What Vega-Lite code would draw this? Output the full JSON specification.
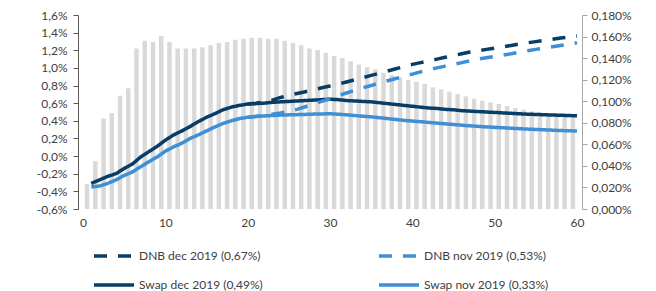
{
  "$schema": "https://vega.github.io/schema/vega-lite/v6.json",
  "autosize": {"type": "none"},
  "width": 504,
  "height": 194,
  "padding": {"left": 78, "top": 15, "right": 74, "bottom": 82},
  "background": "white",
  "config": {"font": "Lato", "view": {"stroke": null}},
  "datasets": {
    "bars": [
      {"t":0.5,"p":0.023},{"t":1.5,"p":0.0445},{"t":2.5,"p":0.084},{"t":3.5,"p":0.089},{"t":4.5,"p":0.105},
      {"t":5.5,"p":0.112},{"t":6.5,"p":0.149},{"t":7.5,"p":0.156},{"t":8.5,"p":0.155},{"t":9.5,"p":0.1605},
      {"t":10.5,"p":0.155},{"t":11.5,"p":0.149},{"t":12.5,"p":0.149},{"t":13.5,"p":0.149},{"t":14.5,"p":0.150},
      {"t":15.5,"p":0.152},{"t":16.5,"p":0.154},{"t":17.5,"p":0.155},{"t":18.5,"p":0.157},{"t":19.5,"p":0.158},
      {"t":20.5,"p":0.159},{"t":21.5,"p":0.159},{"t":22.5,"p":0.158},{"t":23.5,"p":0.158},{"t":24.5,"p":0.156},
      {"t":25.5,"p":0.154},{"t":26.5,"p":0.152},{"t":27.5,"p":0.149},{"t":28.5,"p":0.1475},{"t":29.5,"p":0.145},
      {"t":30.5,"p":0.142},{"t":31.5,"p":0.140},{"t":32.5,"p":0.137},{"t":33.5,"p":0.134},{"t":34.5,"p":0.1315},
      {"t":35.5,"p":0.1296},{"t":36.5,"p":0.1265},{"t":37.5,"p":0.1243},{"t":38.5,"p":0.1222},{"t":39.5,"p":0.1197},
      {"t":40.5,"p":0.1181},{"t":41.5,"p":0.116},{"t":42.5,"p":0.1129},{"t":43.5,"p":0.111},{"t":44.5,"p":0.1088},
      {"t":45.5,"p":0.1066},{"t":46.5,"p":0.1045},{"t":47.5,"p":0.1025},{"t":48.5,"p":0.1005},{"t":49.5,"p":0.0988},
      {"t":50.5,"p":0.0975},{"t":51.5,"p":0.0956},{"t":52.5,"p":0.0937},{"t":53.5,"p":0.0922},{"t":54.5,"p":0.0906},
      {"t":55.5,"p":0.0897},{"t":56.5,"p":0.0882},{"t":57.5,"p":0.0872},{"t":58.5,"p":0.0863},{"t":59.5,"p":0.0855}
    ],
    "lines": [
      {"s":"Swap dec 2019 (0,49%)","m":1,"v":-0.31},{"s":"Swap dec 2019 (0,49%)","m":2,"v":-0.27},{"s":"Swap dec 2019 (0,49%)","m":3,"v":-0.23},{"s":"Swap dec 2019 (0,49%)","m":4,"v":-0.20},{"s":"Swap dec 2019 (0,49%)","m":5,"v":-0.14},
      {"s":"Swap dec 2019 (0,49%)","m":6,"v":-0.09},{"s":"Swap dec 2019 (0,49%)","m":7,"v":-0.01},{"s":"Swap dec 2019 (0,49%)","m":8,"v":0.05},{"s":"Swap dec 2019 (0,49%)","m":9,"v":0.11},{"s":"Swap dec 2019 (0,49%)","m":10,"v":0.18},
      {"s":"Swap dec 2019 (0,49%)","m":11,"v":0.24},{"s":"Swap dec 2019 (0,49%)","m":12,"v":0.285},{"s":"Swap dec 2019 (0,49%)","m":13,"v":0.335},{"s":"Swap dec 2019 (0,49%)","m":14,"v":0.39},{"s":"Swap dec 2019 (0,49%)","m":15,"v":0.44},
      {"s":"Swap dec 2019 (0,49%)","m":16,"v":0.48},{"s":"Swap dec 2019 (0,49%)","m":17,"v":0.525},{"s":"Swap dec 2019 (0,49%)","m":18,"v":0.555},{"s":"Swap dec 2019 (0,49%)","m":19,"v":0.575},{"s":"Swap dec 2019 (0,49%)","m":20,"v":0.59},
      {"s":"Swap dec 2019 (0,49%)","m":21,"v":0.595},{"s":"Swap dec 2019 (0,49%)","m":22,"v":0.60},{"s":"Swap dec 2019 (0,49%)","m":23,"v":0.61},{"s":"Swap dec 2019 (0,49%)","m":24,"v":0.615},{"s":"Swap dec 2019 (0,49%)","m":25,"v":0.62},
      {"s":"Swap dec 2019 (0,49%)","m":26,"v":0.625},{"s":"Swap dec 2019 (0,49%)","m":27,"v":0.63},{"s":"Swap dec 2019 (0,49%)","m":28,"v":0.635},{"s":"Swap dec 2019 (0,49%)","m":29,"v":0.64},{"s":"Swap dec 2019 (0,49%)","m":30,"v":0.645},
      {"s":"Swap dec 2019 (0,49%)","m":31,"v":0.64},{"s":"Swap dec 2019 (0,49%)","m":32,"v":0.63},{"s":"Swap dec 2019 (0,49%)","m":33,"v":0.625},{"s":"Swap dec 2019 (0,49%)","m":34,"v":0.62},{"s":"Swap dec 2019 (0,49%)","m":35,"v":0.615},
      {"s":"Swap dec 2019 (0,49%)","m":36,"v":0.605},{"s":"Swap dec 2019 (0,49%)","m":37,"v":0.595},{"s":"Swap dec 2019 (0,49%)","m":38,"v":0.585},{"s":"Swap dec 2019 (0,49%)","m":39,"v":0.575},{"s":"Swap dec 2019 (0,49%)","m":40,"v":0.565},
      {"s":"Swap dec 2019 (0,49%)","m":41,"v":0.555},{"s":"Swap dec 2019 (0,49%)","m":42,"v":0.545},{"s":"Swap dec 2019 (0,49%)","m":43,"v":0.54},{"s":"Swap dec 2019 (0,49%)","m":44,"v":0.53},{"s":"Swap dec 2019 (0,49%)","m":45,"v":0.525},
      {"s":"Swap dec 2019 (0,49%)","m":46,"v":0.515},{"s":"Swap dec 2019 (0,49%)","m":47,"v":0.51},{"s":"Swap dec 2019 (0,49%)","m":48,"v":0.505},{"s":"Swap dec 2019 (0,49%)","m":49,"v":0.50},{"s":"Swap dec 2019 (0,49%)","m":50,"v":0.495},
      {"s":"Swap dec 2019 (0,49%)","m":51,"v":0.49},{"s":"Swap dec 2019 (0,49%)","m":52,"v":0.485},{"s":"Swap dec 2019 (0,49%)","m":53,"v":0.48},{"s":"Swap dec 2019 (0,49%)","m":54,"v":0.475},{"s":"Swap dec 2019 (0,49%)","m":55,"v":0.472},
      {"s":"Swap dec 2019 (0,49%)","m":56,"v":0.469},{"s":"Swap dec 2019 (0,49%)","m":57,"v":0.466},{"s":"Swap dec 2019 (0,49%)","m":58,"v":0.463},{"s":"Swap dec 2019 (0,49%)","m":59,"v":0.46},{"s":"Swap dec 2019 (0,49%)","m":60,"v":0.457},

      {"s":"Swap nov 2019 (0,33%)","m":1,"v":-0.35},{"s":"Swap nov 2019 (0,33%)","m":2,"v":-0.34},{"s":"Swap nov 2019 (0,33%)","m":3,"v":-0.31},{"s":"Swap nov 2019 (0,33%)","m":4,"v":-0.27},{"s":"Swap nov 2019 (0,33%)","m":5,"v":-0.22},
      {"s":"Swap nov 2019 (0,33%)","m":6,"v":-0.18},{"s":"Swap nov 2019 (0,33%)","m":7,"v":-0.12},{"s":"Swap nov 2019 (0,33%)","m":8,"v":-0.065},{"s":"Swap nov 2019 (0,33%)","m":9,"v":-0.01},{"s":"Swap nov 2019 (0,33%)","m":10,"v":0.055},
      {"s":"Swap nov 2019 (0,33%)","m":11,"v":0.105},{"s":"Swap nov 2019 (0,33%)","m":12,"v":0.145},{"s":"Swap nov 2019 (0,33%)","m":13,"v":0.20},{"s":"Swap nov 2019 (0,33%)","m":14,"v":0.24},{"s":"Swap nov 2019 (0,33%)","m":15,"v":0.285},
      {"s":"Swap nov 2019 (0,33%)","m":16,"v":0.33},{"s":"Swap nov 2019 (0,33%)","m":17,"v":0.37},{"s":"Swap nov 2019 (0,33%)","m":18,"v":0.40},{"s":"Swap nov 2019 (0,33%)","m":19,"v":0.425},{"s":"Swap nov 2019 (0,33%)","m":20,"v":0.44},
      {"s":"Swap nov 2019 (0,33%)","m":21,"v":0.45},{"s":"Swap nov 2019 (0,33%)","m":22,"v":0.455},{"s":"Swap nov 2019 (0,33%)","m":23,"v":0.46},{"s":"Swap nov 2019 (0,33%)","m":24,"v":0.465},{"s":"Swap nov 2019 (0,33%)","m":25,"v":0.468},
      {"s":"Swap nov 2019 (0,33%)","m":26,"v":0.47},{"s":"Swap nov 2019 (0,33%)","m":27,"v":0.473},{"s":"Swap nov 2019 (0,33%)","m":28,"v":0.476},{"s":"Swap nov 2019 (0,33%)","m":29,"v":0.478},{"s":"Swap nov 2019 (0,33%)","m":30,"v":0.48},
      {"s":"Swap nov 2019 (0,33%)","m":31,"v":0.475},{"s":"Swap nov 2019 (0,33%)","m":32,"v":0.468},{"s":"Swap nov 2019 (0,33%)","m":33,"v":0.46},{"s":"Swap nov 2019 (0,33%)","m":34,"v":0.452},{"s":"Swap nov 2019 (0,33%)","m":35,"v":0.445},
      {"s":"Swap nov 2019 (0,33%)","m":36,"v":0.435},{"s":"Swap nov 2019 (0,33%)","m":37,"v":0.425},{"s":"Swap nov 2019 (0,33%)","m":38,"v":0.415},{"s":"Swap nov 2019 (0,33%)","m":39,"v":0.405},{"s":"Swap nov 2019 (0,33%)","m":40,"v":0.397},
      {"s":"Swap nov 2019 (0,33%)","m":41,"v":0.39},{"s":"Swap nov 2019 (0,33%)","m":42,"v":0.382},{"s":"Swap nov 2019 (0,33%)","m":43,"v":0.374},{"s":"Swap nov 2019 (0,33%)","m":44,"v":0.366},{"s":"Swap nov 2019 (0,33%)","m":45,"v":0.358},
      {"s":"Swap nov 2019 (0,33%)","m":46,"v":0.35},{"s":"Swap nov 2019 (0,33%)","m":47,"v":0.343},{"s":"Swap nov 2019 (0,33%)","m":48,"v":0.337},{"s":"Swap nov 2019 (0,33%)","m":49,"v":0.331},{"s":"Swap nov 2019 (0,33%)","m":50,"v":0.326},
      {"s":"Swap nov 2019 (0,33%)","m":51,"v":0.321},{"s":"Swap nov 2019 (0,33%)","m":52,"v":0.316},{"s":"Swap nov 2019 (0,33%)","m":53,"v":0.311},{"s":"Swap nov 2019 (0,33%)","m":54,"v":0.306},{"s":"Swap nov 2019 (0,33%)","m":55,"v":0.302},
      {"s":"Swap nov 2019 (0,33%)","m":56,"v":0.298},{"s":"Swap nov 2019 (0,33%)","m":57,"v":0.294},{"s":"Swap nov 2019 (0,33%)","m":58,"v":0.29},{"s":"Swap nov 2019 (0,33%)","m":59,"v":0.287},{"s":"Swap nov 2019 (0,33%)","m":60,"v":0.284},

      {"s":"DNB dec 2019 (0,67%)","m":20,"v":0.59},{"s":"DNB dec 2019 (0,67%)","m":21,"v":0.60},{"s":"DNB dec 2019 (0,67%)","m":22,"v":0.615},{"s":"DNB dec 2019 (0,67%)","m":23,"v":0.635},{"s":"DNB dec 2019 (0,67%)","m":24,"v":0.665},
      {"s":"DNB dec 2019 (0,67%)","m":25,"v":0.69},{"s":"DNB dec 2019 (0,67%)","m":26,"v":0.71},{"s":"DNB dec 2019 (0,67%)","m":27,"v":0.73},{"s":"DNB dec 2019 (0,67%)","m":28,"v":0.75},{"s":"DNB dec 2019 (0,67%)","m":29,"v":0.775},
      {"s":"DNB dec 2019 (0,67%)","m":30,"v":0.795},{"s":"DNB dec 2019 (0,67%)","m":31,"v":0.815},{"s":"DNB dec 2019 (0,67%)","m":32,"v":0.84},{"s":"DNB dec 2019 (0,67%)","m":33,"v":0.865},{"s":"DNB dec 2019 (0,67%)","m":34,"v":0.89},
      {"s":"DNB dec 2019 (0,67%)","m":35,"v":0.915},{"s":"DNB dec 2019 (0,67%)","m":36,"v":0.94},{"s":"DNB dec 2019 (0,67%)","m":37,"v":0.965},{"s":"DNB dec 2019 (0,67%)","m":38,"v":0.99},{"s":"DNB dec 2019 (0,67%)","m":39,"v":1.015},
      {"s":"DNB dec 2019 (0,67%)","m":40,"v":1.04},{"s":"DNB dec 2019 (0,67%)","m":41,"v":1.06},{"s":"DNB dec 2019 (0,67%)","m":42,"v":1.08},{"s":"DNB dec 2019 (0,67%)","m":43,"v":1.10},{"s":"DNB dec 2019 (0,67%)","m":44,"v":1.12},
      {"s":"DNB dec 2019 (0,67%)","m":45,"v":1.14},{"s":"DNB dec 2019 (0,67%)","m":46,"v":1.16},{"s":"DNB dec 2019 (0,67%)","m":47,"v":1.18},{"s":"DNB dec 2019 (0,67%)","m":48,"v":1.195},{"s":"DNB dec 2019 (0,67%)","m":49,"v":1.21},
      {"s":"DNB dec 2019 (0,67%)","m":50,"v":1.225},{"s":"DNB dec 2019 (0,67%)","m":51,"v":1.24},{"s":"DNB dec 2019 (0,67%)","m":52,"v":1.255},{"s":"DNB dec 2019 (0,67%)","m":53,"v":1.27},{"s":"DNB dec 2019 (0,67%)","m":54,"v":1.285},
      {"s":"DNB dec 2019 (0,67%)","m":55,"v":1.298},{"s":"DNB dec 2019 (0,67%)","m":56,"v":1.312},{"s":"DNB dec 2019 (0,67%)","m":57,"v":1.325},{"s":"DNB dec 2019 (0,67%)","m":58,"v":1.338},{"s":"DNB dec 2019 (0,67%)","m":59,"v":1.35},
      {"s":"DNB dec 2019 (0,67%)","m":60,"v":1.362},

      {"s":"DNB nov 2019 (0,53%)","m":20,"v":0.44},{"s":"DNB nov 2019 (0,53%)","m":21,"v":0.45},{"s":"DNB nov 2019 (0,53%)","m":22,"v":0.46},{"s":"DNB nov 2019 (0,53%)","m":23,"v":0.475},{"s":"DNB nov 2019 (0,53%)","m":24,"v":0.49},
      {"s":"DNB nov 2019 (0,53%)","m":25,"v":0.51},{"s":"DNB nov 2019 (0,53%)","m":26,"v":0.53},{"s":"DNB nov 2019 (0,53%)","m":27,"v":0.56},{"s":"DNB nov 2019 (0,53%)","m":28,"v":0.59},{"s":"DNB nov 2019 (0,53%)","m":29,"v":0.62},
      {"s":"DNB nov 2019 (0,53%)","m":30,"v":0.65},{"s":"DNB nov 2019 (0,53%)","m":31,"v":0.685},{"s":"DNB nov 2019 (0,53%)","m":32,"v":0.715},{"s":"DNB nov 2019 (0,53%)","m":33,"v":0.745},{"s":"DNB nov 2019 (0,53%)","m":34,"v":0.775},
      {"s":"DNB nov 2019 (0,53%)","m":35,"v":0.80},{"s":"DNB nov 2019 (0,53%)","m":36,"v":0.83},{"s":"DNB nov 2019 (0,53%)","m":37,"v":0.855},{"s":"DNB nov 2019 (0,53%)","m":38,"v":0.88},{"s":"DNB nov 2019 (0,53%)","m":39,"v":0.905},
      {"s":"DNB nov 2019 (0,53%)","m":40,"v":0.93},{"s":"DNB nov 2019 (0,53%)","m":41,"v":0.955},{"s":"DNB nov 2019 (0,53%)","m":42,"v":0.98},{"s":"DNB nov 2019 (0,53%)","m":43,"v":1.0},{"s":"DNB nov 2019 (0,53%)","m":44,"v":1.02},
      {"s":"DNB nov 2019 (0,53%)","m":45,"v":1.04},{"s":"DNB nov 2019 (0,53%)","m":46,"v":1.06},{"s":"DNB nov 2019 (0,53%)","m":47,"v":1.08},{"s":"DNB nov 2019 (0,53%)","m":48,"v":1.10},{"s":"DNB nov 2019 (0,53%)","m":49,"v":1.115},
      {"s":"DNB nov 2019 (0,53%)","m":50,"v":1.13},{"s":"DNB nov 2019 (0,53%)","m":51,"v":1.145},{"s":"DNB nov 2019 (0,53%)","m":52,"v":1.16},{"s":"DNB nov 2019 (0,53%)","m":53,"v":1.18},{"s":"DNB nov 2019 (0,53%)","m":54,"v":1.195},
      {"s":"DNB nov 2019 (0,53%)","m":55,"v":1.21},{"s":"DNB nov 2019 (0,53%)","m":56,"v":1.225},{"s":"DNB nov 2019 (0,53%)","m":57,"v":1.24},{"s":"DNB nov 2019 (0,53%)","m":58,"v":1.255},{"s":"DNB nov 2019 (0,53%)","m":59,"v":1.27},
      {"s":"DNB nov 2019 (0,53%)","m":60,"v":1.285}
    ]
  },
  "layer": [
    {
      "data": {"name": "bars"},
      "mark": {"type": "bar", "color": "#d9d9d9", "size": 4.5},
      "encoding": {
        "x": {"field": "t", "type": "quantitative", "scale": {"domain": [0, 60], "nice": false},
              "axis": {"values": [0,10,20,30,40,50,60], "domain": false, "ticks": false, "grid": false, "title": null,
                       "labelFontSize": 12, "labelColor": "#404040", "labelPadding": 8, "labelFont": "Lato"}},
        "y": {"field": "p", "type": "quantitative", "scale": {"domain": [0, 0.18], "nice": false},
              "axis": {"orient": "right", "values": [0,0.02,0.04,0.06,0.08,0.1,0.12,0.14,0.16,0.18], "grid": false, "title": null,
                       "labelExpr": "replace(format(datum.value, '.3f'), '.', ',') + '%'",
                       "domainColor": "#a6a6a6", "tickColor": "#a6a6a6", "tickSize": 5, "labelPadding": 4,
                       "labelFontSize": 12, "labelColor": "#404040", "labelFont": "Lato"}}
      }
    },
    {
      "data": {"name": "lines"},
      "mark": {"type": "line", "strokeWidth": 3.5, "interpolate": "linear"},
      "encoding": {
        "x": {"field": "m", "type": "quantitative"},
        "y": {"field": "v", "type": "quantitative", "scale": {"domain": [-0.6, 1.6], "nice": false},
              "axis": {"orient": "left", "values": [-0.6,-0.4,-0.2,0,0.2,0.4,0.6,0.8,1.0,1.2,1.4,1.6], "grid": false, "title": null,
                       "labelExpr": "replace(replace(format(datum.value, '.1f'), '.', ','), '−', '-') + '%'",
                       "domainColor": "#595959", "tickColor": "#595959", "tickSize": 5, "labelPadding": 6,
                       "labelFontSize": 12, "labelColor": "#404040", "labelFont": "Lato"}},
        "color": {"field": "s", "type": "nominal",
                  "scale": {"domain": ["DNB dec 2019 (0,67%)", "Swap dec 2019 (0,49%)", "DNB nov 2019 (0,53%)", "Swap nov 2019 (0,33%)"],
                            "range": ["#073d66", "#073d66", "#3f8fd6", "#3f8fd6"]},
                  "legend": {"orient": "none", "legendX": 14, "legendY": 219, "columns": 2, "title": null,
                             "symbolType": "stroke", "symbolSize": 1600, "symbolStrokeWidth": 3.5,
                             "labelFont": "Lato", "labelFontSize": 12, "labelColor": "#404040", "labelOffset": 3,
                             "columnPadding": 108, "rowPadding": -24, "gridAlign": "all"}},
        "strokeDash": {"field": "s", "type": "nominal",
                       "scale": {"domain": ["DNB dec 2019 (0,67%)", "Swap dec 2019 (0,49%)", "DNB nov 2019 (0,53%)", "Swap nov 2019 (0,33%)"],
                                 "range": [[13, 11], [1, 0], [13, 11], [1, 0]]},
                       "legend": {"orient": "none", "legendX": 14, "legendY": 219, "columns": 2, "title": null,
                             "symbolType": "stroke", "symbolSize": 1600, "symbolStrokeWidth": 3.5,
                             "labelFont": "Lato", "labelFontSize": 12, "labelColor": "#404040", "labelOffset": 3,
                             "columnPadding": 108, "rowPadding": -24, "gridAlign": "all"}}
      }
    }
  ],
  "resolve": {"scale": {"y": "independent"}}
}
